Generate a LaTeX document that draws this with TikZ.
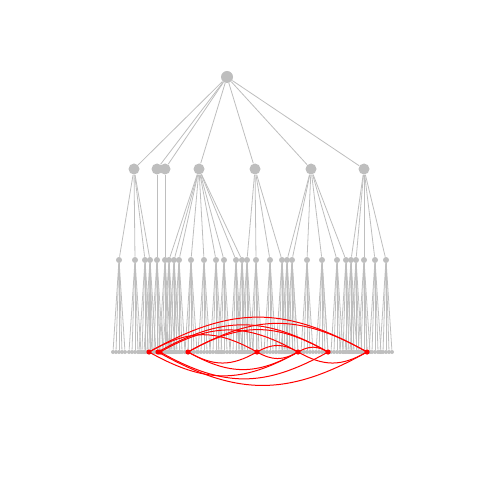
\documentclass[tikz,border=0pt]{standalone}
\begin{document}
\definecolor{treegray}{HTML}{BEBEBE}
\begin{tikzpicture}[x=0.5pt,y=-0.5pt,
  dot/.style={circle,fill=treegray,inner sep=0pt,minimum size=#1},
  reddot/.style={circle,fill=red,inner sep=0pt,minimum size=2.6pt},
  edge/.style={draw=treegray,line width=0.4pt},
  arc/.style={draw=red,line width=0.5pt}]
\useasboundingbox (0,0) rectangle (480,480);
% root and level 1
\node[dot=6pt] (r) at (227,77) {};
\foreach \n/\x in {1/134,2/157,3/165,4/199,5/255,6/311,7/364}
{
  \node[dot=5.5pt] (a\n) at (\x,169) {};
  \draw[edge] (r) -- (a\n);
}
% level 2
\foreach \n/\x/\p in {1/119/1,2/135/1,3/145/1,4/150/1,5/157/2,6/165/3,7/169/4,8/174/4,9/179/4,10/191/4,11/204/4,12/216/4,13/224/4,14/236/4,15/242/4,16/247/5,17/256/5,18/270/5,19/282/5,20/287/6,21/292/6,22/307/6,23/322/6,24/337/6,25/346/6,26/351/7,27/356/7,28/364/7,29/375/7,30/386/7}
{
  \node[dot=3pt] (b\n) at (\x,260) {};
  \draw[edge] (a\p) -- (b\n);
  \foreach \o [count=\k] in {-6,-3,0,3,6}
  {
    \node[dot=2pt] (c\n-\k) at (\x+\o,352) {};
    \draw[edge] (b\n) -- (c\n-\k);
  }
}
% highlighted leaves
\foreach \n/\x/\p in {1/149/4,2/158/5,3/160/5,4/188/10,5/257/17,6/298/21,7/328/23,8/367/28}
{
  \node[reddot] (d\n) at (\x,352) {};
  \draw[edge] (b\p) -- (d\n);
}
% arcs between highlighted leaves
\foreach \i/\xa/\j/\xb/\sg in {1/149/8/367/-1,2/158/7/328/-1,3/160/6/298/-1,4/188/7/328/-1,5/257/6/298/-1,6/298/7/328/-1,1/149/5/257/-1,4/188/8/367/-1,
  2/158/8/367/1,3/160/7/328/1,1/149/6/298/1,4/188/6/298/1,5/257/6/298/1,4/188/5/257/1,6/298/8/367/1}
{
  \pgfmathsetmacro\yy{352+\sg*0.16*(\xb-\xa)*4/3}
  \pgfmathsetmacro\ca{\xa+0.38*(\xb-\xa)}
  \pgfmathsetmacro\cb{\xb-0.38*(\xb-\xa)}
  \draw[arc] (d\i.center) .. controls (\ca,\yy) and (\cb,\yy) .. (d\j.center);
}
\end{tikzpicture}
\end{document}
